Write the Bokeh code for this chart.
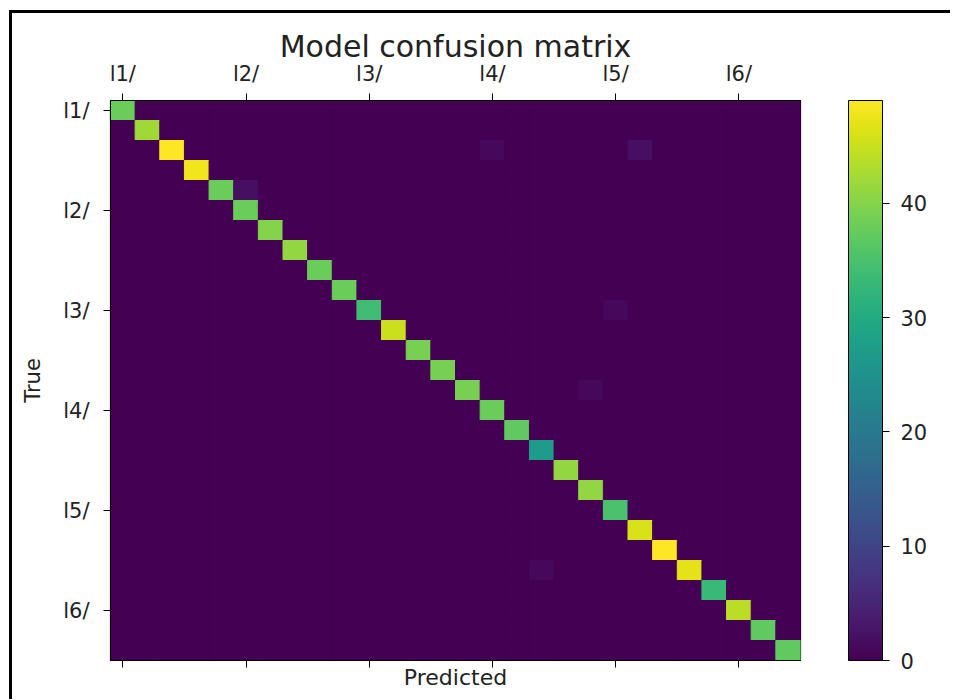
import numpy as np
from bokeh.plotting import figure
from bokeh.models import (LinearColorMapper, ColorBar, FixedTicker, LinearAxis,
                          ColumnDataSource)
from bokeh.palettes import Viridis256
from bokeh.transform import transform
from bokeh.embed import file_html
from bokeh.resources import INLINE

# ---------------- data ----------------
n_classes = 28
tick_positions = [0, 5, 10, 15, 20, 25]
tick_labels = ["l1/", "l2/", "l3/", "l4/", "l5/", "l6/"]
diag_values = [38, 42, 49, 48, 38, 38, 40, 41, 38, 38, 34, 45, 39, 39,
               39, 38, 37, 27, 41, 41, 35, 46, 49, 47, 33, 44, 37, 37]
off_rows = [2, 2, 4, 10, 14, 23]
off_cols = [15, 21, 5, 20, 19, 17]
off_values = [1, 2, 2, 1, 1, 1]
cbar_ticks = [0, 10, 20, 30, 40]
vmin, vmax = 0, 49

# ---------------- matrix ----------------
cm = np.zeros((n_classes, n_classes))
for i, v in enumerate(diag_values):
    cm[i, i] = v
for r, c, v in zip(off_rows, off_cols, off_values):
    cm[r, c] = v

rr, cc = np.indices(cm.shape)
source = ColumnDataSource(dict(row=rr.ravel(), col=cc.ravel(), value=cm.ravel()))

FONT = "DejaVu Sans"
TXT = "#222222"
mapper = LinearColorMapper(palette=Viridis256, low=vmin, high=vmax)

p = figure(frame_width=690, frame_height=560,
           x_range=(-0.5, n_classes - 0.5), y_range=(n_classes - 0.5, -0.5),
           x_axis_location="above", output_backend="svg", toolbar_location=None,
           min_border_left=98, min_border_top=87, min_border_bottom=39,
           min_border_right=150)
p.styles = {"margin-left": "9px", "margin-top": "10px",
            "border-left": "3px solid black", "border-top": "3px solid black"}
p.background_fill_color = Viridis256[0]

p.rect(x="col", y="row", width=1, height=1, source=source,
       fill_color=transform("value", mapper),
       line_color=transform("value", mapper), line_width=1)

p.xgrid.visible = False
p.ygrid.visible = False
p.outline_line_color = "black"
p.outline_line_width = 1.2

labels = {t: l for t, l in zip(tick_positions, tick_labels)}

def style_axis(ax):
    ax.ticker = FixedTicker(ticks=tick_positions)
    ax.major_label_overrides = labels
    ax.major_tick_out = 7
    ax.major_tick_in = 0
    ax.minor_tick_out = 0
    ax.minor_tick_in = 0
    ax.axis_line_color = "black"
    ax.major_tick_line_color = "black"
    ax.major_label_text_font = FONT
    ax.major_label_text_font_size = "21px"
    ax.major_label_text_color = TXT
    ax.axis_label_text_font = FONT
    ax.axis_label_text_font_size = "22px"
    ax.axis_label_text_font_style = "normal"
    ax.axis_label_text_color = TXT

# top axis: tick labels + the chart title
top = p.xaxis[0]
style_axis(top)
top.major_label_standoff = 8
top.axis_label = "Model confusion matrix"
top.axis_label_text_font_size = "30px"
top.axis_label_standoff = -5

# left axis
left = p.yaxis[0]
style_axis(left)
left.major_label_standoff = 14
left.axis_label = "True"
left.axis_label_text_font_size = "21px"
left.axis_label_standoff = 15

# bottom axis: ticks only
bottom = LinearAxis()
style_axis(bottom)
bottom.major_label_text_font_size = "1px"
bottom.major_label_text_color = None
bottom.major_label_standoff = 0
bottom.axis_label = "Predicted"
bottom.axis_label_standoff = -3
p.add_layout(bottom, "below")

cbar = ColorBar(color_mapper=mapper, width=34, height=560,
                ticker=FixedTicker(ticks=cbar_ticks),
                location=(48, 0), padding=0, margin=0,
                bar_line_color="black", bar_line_width=1,
                major_tick_out=7, major_tick_in=0,
                major_tick_line_color="black",
                major_label_text_font=FONT, major_label_text_font_size="21px",
                major_label_text_color=TXT, label_standoff=11,
                minor_tick_out=0, minor_tick_in=0)
p.add_layout(cbar, "right")

open("out.html", "w").write(file_html(p, INLINE))
